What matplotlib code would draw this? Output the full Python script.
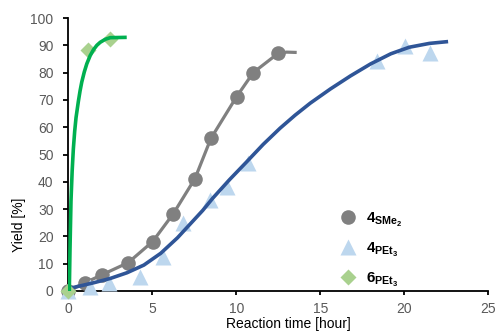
import matplotlib
matplotlib.use("Agg")
import matplotlib.pyplot as plt

plt.rcParams['font.family'] = ['Liberation Sans', 'DejaVu Sans']
plt.rcParams['mathtext.fontset'] = 'custom'
plt.rcParams['mathtext.rm'] = 'Liberation Sans'
plt.rcParams['mathtext.bf'] = 'Liberation Sans:bold'

# 4SMe2 measured points (circles) and its smoothed line
sme_t = [0, 0.99, 1.99, 3.57, 5.02, 6.25, 7.54, 8.49, 10.02, 11.01, 12.5]
sme_y = [0, 3.0, 5.9, 10.4, 18.1, 28.3, 41.2, 55.9, 71.2, 80.0, 87.1]
sme_line_t = [0, 0.99, 1.99, 3.57, 5.02, 6.25, 7.54, 8.49, 10.02, 11.01, 12.5, 13.0, 13.5]
sme_line_y = [0, 3.0, 5.9, 10.4, 18.1, 28.3, 41.2, 55.9, 71.2, 80.0, 87.1, 87.5, 87.4]

# 4PEt3 measured points (triangles) and fitted curve
pet_t = [0, 1.29, 2.45, 4.27, 5.65, 6.8, 8.43, 9.43, 10.71, 18.36, 20.04, 21.53]
pet_y = [0, 1.6, 3.0, 5.0, 12.3, 25.0, 33.3, 38.2, 46.8, 84.4, 89.7, 87.3]
pet_fit_t = [0, 0.1, 1.5, 2.5, 3.5, 4.5, 5.5, 6.5, 7.25, 8.0, 8.6, 9.6, 10.6,
             11.6, 12.6, 13.5, 14.4, 15.6, 16.8, 18.0, 19.2, 20.3, 21.5, 22.5]
pet_fit_y = [0, 1.0, 3.0, 4.6, 6.7, 9.5, 13.8, 19.5, 24.5, 29.5, 34.0, 40.8, 47.2,
             53.7, 59.6, 64.4, 68.8, 74.0, 78.8, 83.2, 86.9, 89.3, 90.7, 91.3]

# 6PEt3 measured points (diamonds) and fitted curve
p6_t = [0, 1.19, 2.48]
p6_y = [0, 88.3, 92.2]
p6_fit_t = [0, 0.06, 0.1, 0.16, 0.23, 0.3, 0.38, 0.46, 0.6, 0.7, 0.8, 0.95, 1.1,
            1.3, 1.5, 1.7, 1.9, 2.2, 2.5, 3.37]
p6_fit_y = [0, 0, 15, 33, 44, 52, 58.5, 63.5, 69.5, 73.3, 76.5, 80.2, 83.2,
            86.2, 88.4, 90.0, 91.1, 92.2, 92.8, 92.9]

labels = [r'$\mathbf{4}_{\mathbf{SMe}_{\mathbf{2}}}$',
          r'$\mathbf{4}_{\mathbf{PEt}_{\mathbf{3}}}$',
          r'$\mathbf{6}_{\mathbf{PEt}_{\mathbf{3}}}$']

fig = plt.figure(figsize=(4.98, 3.32), dpi=100)
ax = fig.add_axes([68.3 / 498, 1 - 291 / 332, 420 / 498, 273 / 332])

gray = '#808080'
ax.plot(sme_line_t, sme_line_y, color=gray, lw=2.3, zorder=2)
ax.plot(sme_t, sme_y, 'o', color=gray, ms=10.5, mec='none', clip_on=False,
        label=labels[0], zorder=3)
ax.plot(pet_t, pet_y, '^', color='#BDD7EE', ms=11, mec='none', clip_on=False,
        label=labels[1], zorder=4)
ax.plot(pet_fit_t, pet_fit_y, color='#2F5597', lw=2.6, zorder=5)
ax.plot(p6_t, p6_y, 'D', color='#A9D18E', ms=8, mec='none', clip_on=False,
        label=labels[2], zorder=6)
ax.plot(p6_fit_t, p6_fit_y, color='#00B050', lw=2.6, zorder=7)

ax.set_xlim(0, 25)
ax.set_ylim(0, 100)
ax.set_xticks(range(0, 26, 5))
ax.set_yticks(range(0, 101, 10))
for s in ['top', 'right']:
    ax.spines[s].set_visible(False)
for s in ['left', 'bottom']:
    ax.spines[s].set_linewidth(1.3)
ax.tick_params(axis='y', length=3.6, width=1.3, pad=7, labelsize=10, labelcolor='#595959')
ax.tick_params(axis='x', length=3, width=1.3, pad=5, labelsize=10, labelcolor='#595959')

ax.set_xlabel('Reaction time [hour]', fontsize=10)
ax.set_ylabel('Yield [%]', fontsize=10)
ax.xaxis.set_label_coords(0.523, -0.097)
ax.yaxis.set_label_coords(-0.1, 0.242)

ax.legend(loc='upper left', bbox_to_anchor=(330 / 498, 1 - 203 / 332),
          bbox_transform=fig.transFigure, frameon=False, fontsize=11,
          handlelength=1.4, handletextpad=0.45, borderpad=0, labelspacing=0.75)

fig.savefig('out.png', dpi=100)
